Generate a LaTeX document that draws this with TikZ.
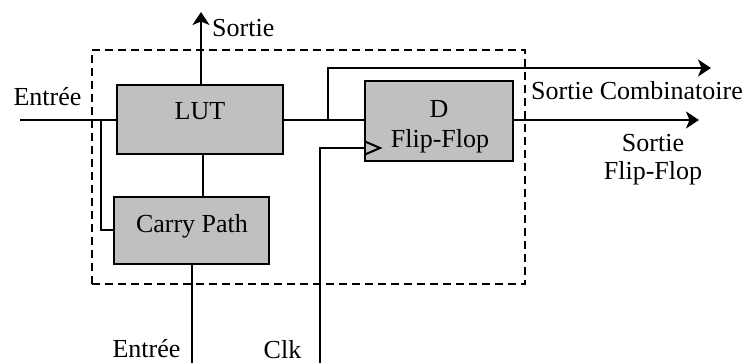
\documentclass[tikz,border=0pt]{standalone}
\usepackage{fontspec}
\setmainfont{Liberation Serif}
\usetikzlibrary{arrows.meta,calc}
\begin{document}
\begin{tikzpicture}[x=1pt,y=-1pt,
  every node/.style={font=\fontsize{26}{29}\selectfont, inner sep=0pt},
  blk/.style={draw, line width=2pt, fill={rgb,255:red,192;green,192;blue,192}},
  wire/.style={line width=2pt},
  arr/.style={wire, -{Stealth[length=13pt,width=17pt,inset=3.5pt]}},
  txt/.style={anchor=base}]
\useasboundingbox (0,0) rectangle (747,363);
% dashed cell border
\node[draw, line width=2pt, dash pattern=on 8pt off 5pt, minimum width=433pt, minimum height=234pt] (cell) at (308.5,167) {};
% blocks
\node[blk, minimum width=166pt, minimum height=69pt] (lut) at (200,119.5) {};
\node[blk, minimum width=155pt, minimum height=67pt] (carry) at (191.5,230.5) {};
\node[blk, minimum width=148pt, minimum height=80pt] (ff) at (439,121) {};
\node[txt] (lutt) at (200,120) {LUT};
\node[txt] (carryt) at (192,233) {Carry Path};
\node[txt] (ffd) at (439,118) {D};
\node[txt] (fff) at (440,148) {Flip-Flop};
% coordinates
\coordinate (in1) at (20,120);
\coordinate (j1) at (101,120);
\coordinate (stop) at (201,12);
\coordinate (inb) at (191.5,363);
\coordinate (clk) at (320,363);
\coordinate (ck) at (365,148);
\coordinate (j2) at (328,120);
\coordinate (comb) at (711,68);
\coordinate (ffo) at (699,120);
% wires
\draw[wire] (in1) -- (in1 -| lut.west);
\draw[wire] (j1) |- (carry.west);
\draw[arr] (stop |- lut.north) -- (stop);
\draw[wire] ([xshift=3pt]lut.south) -- ([xshift=3pt]lut.south |- carry.north);
\draw[wire] (carry.south) -- (inb);
\draw[wire] (clk) |- (ck);
\draw[wire] (ck) ++(0,-6.5) -- ++(15,6.5) -- ++(-15,6.5);
\draw[wire] (lut.east |- j2) -- (j2 -| ff.west);
\draw[arr] (j2) |- (comb);
\draw[arr] (ffo -| ff.east) -- (ffo);
% labels
\node[txt, anchor=base west] (ls) at (212,37) {Sortie};
\node[txt] (le) at (47.5,106) {Entrée};
\node[txt] (lc) at (637,100) {Sortie Combinatoire};
\node[txt] (lf1) at (653,152) {Sortie};
\node[txt] (lf2) at (653,180) {Flip-Flop};
\node[txt] (leb) at (146.5,357) {Entrée};
\node[txt] (lclk) at (282.5,358) {Clk};
\end{tikzpicture}
\end{document}
